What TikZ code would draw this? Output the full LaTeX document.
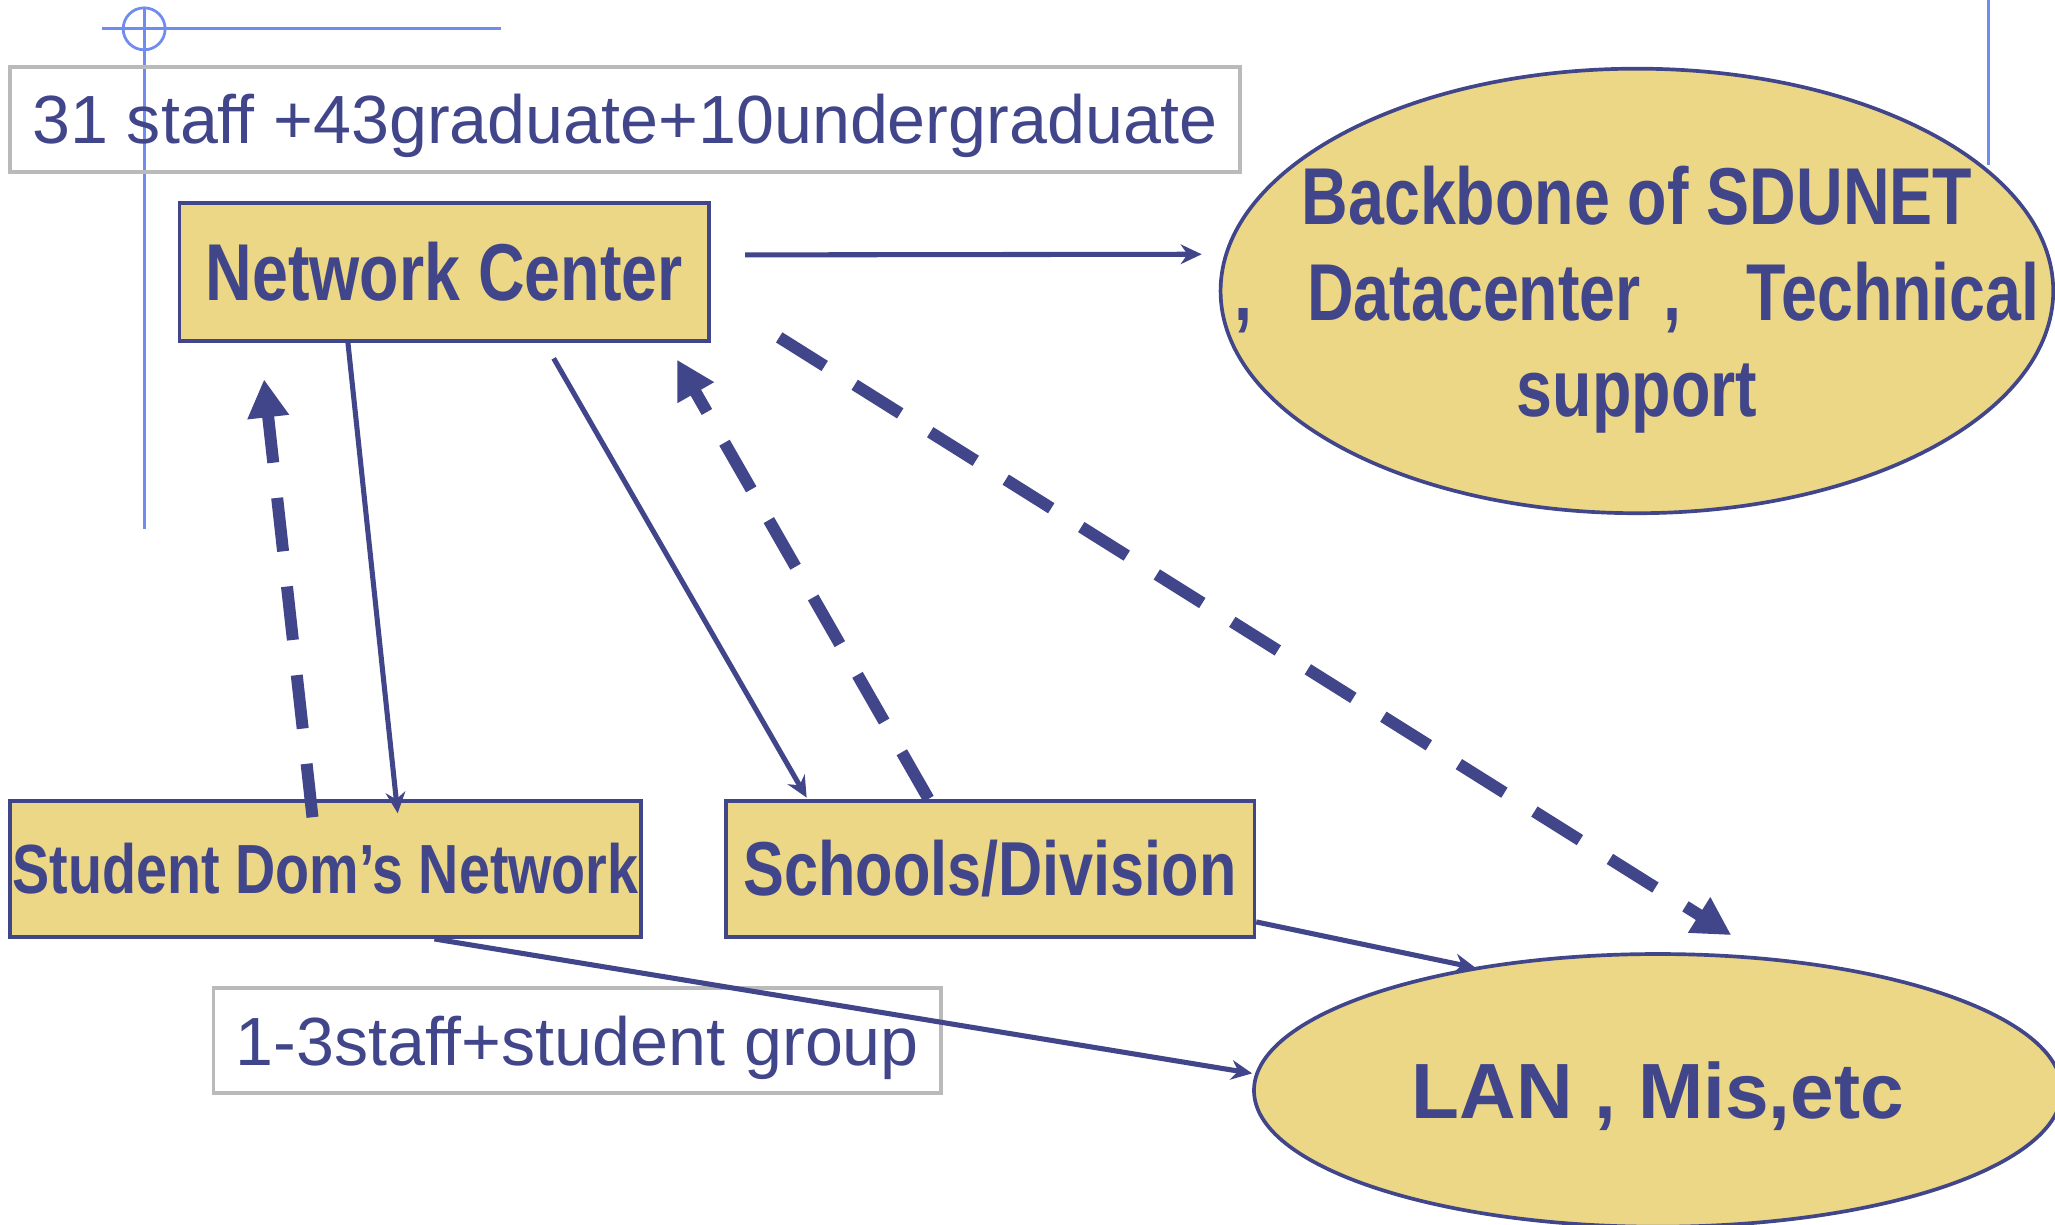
\documentclass[tikz,border=0pt]{standalone}
\usepackage{fontspec}
\setmainfont{Liberation Sans}
\newfontfamily\narrowsans[FakeStretch=0.8]{Liberation Sans}
\usepackage{tikz}
\usetikzlibrary{arrows.meta, shapes.geometric, positioning, calc}
\definecolor{NetBlue}{RGB}{65,69,137}
\definecolor{BoxYellow}{RGB}{235,215,134}
\definecolor{GuideBlue}{RGB}{112,140,238}
\definecolor{NoteGray}{RGB}{186,186,186}
\tikzstyle{thinarrow} = [line width=1.1pt, NetBlue, -{Stealth[length=0.16cm, width=0.15cm]}]
\tikzstyle{dasharrow} = [line width=2.6pt, NetBlue, dash pattern=on 0.41cm off 0.27cm, -{Triangle[length=0.29cm, width=0.3cm]}]
\tikzstyle{yellowbox} = [draw=NetBlue, line width=0.8pt, fill=BoxYellow, text=NetBlue, inner sep=0pt, font=\narrowsans\bfseries]
\tikzstyle{yellowoval} = [ellipse, draw=NetBlue, line width=0.8pt, fill=BoxYellow, text=NetBlue, inner sep=0pt, text depth=0pt]
\tikzstyle{notebox} = [draw=NoteGray, line width=0.8pt, text=NetBlue, inner sep=0pt, text depth=0pt, font=\fontsize{14.8}{17}\selectfont]
\tikzstyle{guide} = [GuideBlue, line width=0.6pt]

\begin{document}
\begin{tikzpicture}[x=0.01cm, y=-0.01cm]
    \useasboundingbox (0,0) rectangle (1568,934.7);
    % guide marks
    \draw[guide] (78,22) -- (382,22);
    \draw[guide] (110,7) -- (110,404);
    \draw[guide] (110,22) circle [radius=0.16cm];
    \draw[guide] (1517,0) -- (1517,126);

    \node[notebox, minimum width=9.38cm, minimum height=0.8cm] (staff) at (477,91) {31 staff +43graduate+10undergraduate};
    \node[yellowbox, minimum width=4.04cm, minimum height=1.05cm, font=\narrowsans\bfseries\fontsize{17.5}{21}\selectfont] (nc) at (339,207.5) {Network Center};
    \node[yellowoval, minimum width=6.35cm, minimum height=3.39cm, align=center, font=\narrowsans\bfseries\fontsize{17.5}{20.8}\selectfont] (bb) at (1249,222)
        {\makebox[0pt]{Backbone of SDUNET}\\\makebox[0pt]{,\hspace{0.42cm}Datacenter\hspace{0.17cm},\hspace{0.5cm}Technical}\\\makebox[0pt]{support}};
    \node[yellowbox, minimum width=4.81cm, minimum height=1.04cm, font=\narrowsans\bfseries\fontsize{15.1}{18}\selectfont] (sdn) at (248.5,663) {Student Dom’s Network};
    \node[yellowbox, minimum width=4.03cm, minimum height=1.04cm, font=\narrowsans\bfseries\fontsize{16.6}{19}\selectfont] (sch) at (755.5,663) {Schools/Division};
    \node[yellowoval, minimum width=6.16cm, minimum height=2.08cm, font=\bfseries\fontsize{17}{20}\selectfont] (lan) at (1265,832) {LAN , Mis,etc};
    \node[notebox, minimum width=5.55cm, minimum height=0.8cm] (group) at (440.5,794) {1-3staff+student group};

    \draw[thinarrow] ($(nc.east)+(26,-13)$) -- ($(bb.west)+(-13,-28)$);
    \draw[thinarrow] ($(nc.south west)+(130,0)$) -- ($(sdn.north west)+(297,11)$);
    \draw[dasharrow] ($(sdn.north west)+(232,14)$) -- ($(nc.south west)+(66,28)$);
    \draw[thinarrow] ($(nc.south west)+(287,12)$) -- ($(sch.north west)+(63,-1)$);
    \draw[dasharrow] ($(sch.north west)+(156,0)$) -- ($(nc.south east)+(-26,13)$);
    \draw[dasharrow] ($(nc.south east)+(52,-4)$) -- ($(lan.north)+(56,-13)$);
    \draw[thinarrow] ($(sch.south east)+(0,-13)$) -- ($(lan.north)+(-139,12)$);
    \draw[thinarrow] ($(sdn.south west)+(325,0)$) -- ($(lan.west)+(0,-13)$);
\end{tikzpicture}
\end{document}
